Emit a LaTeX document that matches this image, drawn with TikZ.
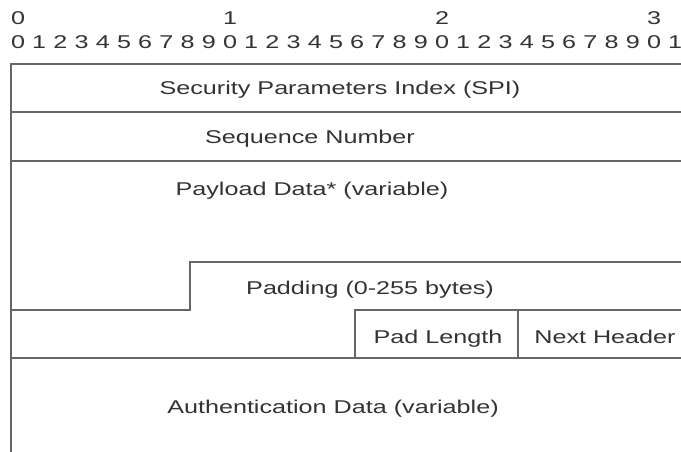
\documentclass[tikz,border=0pt]{standalone}
\usepackage{fontspec}
\setmainfont[FakeStretch=1.36]{Liberation Sans}
\definecolor{linec}{HTML}{666666}
\definecolor{textc}{HTML}{333333}
\begin{document}
\begin{tikzpicture}[x=1pt,y=-1pt,
  lbl/.style={inner sep=0pt,text=textc,text height=13.5pt,text depth=3.8pt,font=\fontsize{18.5}{21}\selectfont},
  dig/.style={inner sep=0pt,text=textc,text height=13.5pt,text depth=0pt,font=\fontsize{18.5}{21}\selectfont},
  border/.style={draw=linec,line width=1.5pt}]
\useasboundingbox (0,0) rectangle (681,452);
% bit ruler
\foreach \t/\i in {0/0,1/10,2/20,3/30}
  \node[dig] (tens\t) at (18+21.2*\i,18) {\t};
\foreach \i in {0,...,31}{
  \pgfmathtruncatemacro{\d}{mod(\i,10)}
  \node[dig] (bit\i) at (18+21.2*\i,42) {\d};
}
% frame lines
\draw[border] (11,452) -- (11,64) -- (681,64);
\draw[border] (11,112) -- (681,112);
\draw[border] (11,161) -- (681,161);
\draw[border] (11,310) -- (190,310) -- (190,262) -- (681,262);
\draw[border] (355,358) -- (355,310) -- (681,310);
\draw[border] (518,310) -- (518,358);
\draw[border] (11,358) -- (681,358);
% labels
\node[lbl] (spi) at (340,90) {Security Parameters Index (SPI)};
\node[lbl] (seq) at (310,139) {Sequence Number};
\node[lbl] (pay) at (312,191) {Payload Data* (variable)};
\node[lbl] (pad) at (370,290) {Padding (0-255 bytes)};
\node[lbl] (padlen) at (438,339) {Pad Length};
\node[lbl] (nh) at (605,339) {Next Header};
\node[lbl] (auth) at (333,409) {Authentication Data (variable)};
\end{tikzpicture}
\end{document}
